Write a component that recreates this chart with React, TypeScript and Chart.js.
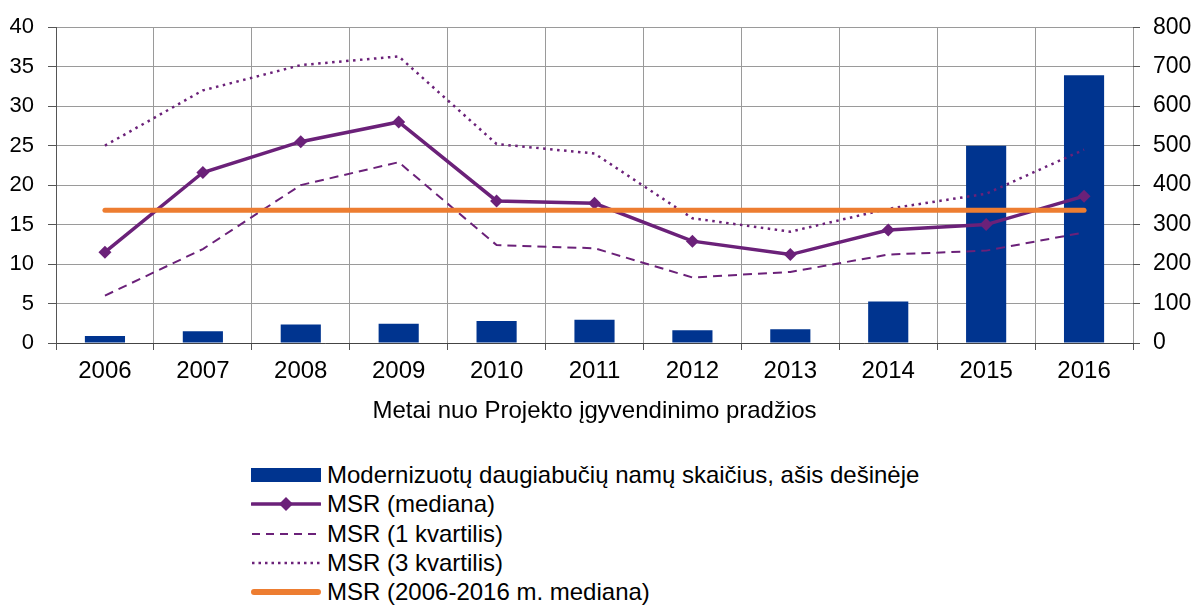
import React, { useEffect, useRef } from "react";
import { Chart, registerables } from "chart.js";

Chart.register(...registerables);

const years = ["2006", "2007", "2008", "2009", "2010", "2011", "2012", "2013", "2014", "2015", "2016"];
const renovatedHouses = [18, 30, 47, 49, 56, 59, 32, 35, 105, 500, 678];
const msrMedian = [11.5, 21.6, 25.5, 28.0, 18.0, 17.7, 12.9, 11.2, 14.3, 15.0, 18.6];
const msrQ1 = [6.0, 11.9, 20.0, 22.9, 12.4, 12.0, 8.3, 9.0, 11.2, 11.7, 14.0];
const msrQ3 = [25.0, 32.0, 35.2, 36.3, 25.2, 24.0, 15.8, 14.1, 17.0, 18.9, 24.5];
const msrOverallMedian = [16.8, 16.8, 16.8, 16.8, 16.8, 16.8, 16.8, 16.8, 16.8, 16.8, 16.8];

const labels = {
  bars: "Modernizuotų daugiabučių namų skaičius, ašis dešinėje",
  median: "MSR (mediana)",
  q1: "MSR (1 kvartilis)",
  q3: "MSR (3 kvartilis)",
  overall: "MSR (2006-2016 m. mediana)",
};
const xTitle = "Metai nuo Projekto įgyvendinimo pradžios";

const BLUE = "#00348F";
const PURPLE = "#6B2179";
const ORANGE = "#ED7D31";
const GRID = "#9a9a9a";
const FONT = "'Liberation Sans', Arial, sans-serif";
const FS = 24;

export default function App() {
  const ref = useRef<HTMLCanvasElement | null>(null);

  useEffect(() => {
    document.body.style.margin = "0";
    const canvas = ref.current;
    if (!canvas) return;
    const chart = new Chart(canvas, {
      type: "bar",
      data: {
        labels: years,
        datasets: [
          {
            type: "line",
            label: labels.overall,
            data: msrOverallMedian,
            borderColor: ORANGE,
            borderWidth: 5,
            borderCapStyle: "round",
            pointRadius: 0,
            yAxisID: "y",
            order: 1,
          } as any,
          {
            type: "line",
            label: labels.median,
            data: msrMedian,
            borderColor: PURPLE,
            backgroundColor: PURPLE,
            borderWidth: 3.5,
            pointStyle: "rectRot",
            pointRadius: 6.5,
            pointBorderWidth: 0,
            yAxisID: "y",
            order: 2,
          } as any,
          {
            type: "line",
            label: labels.q1,
            data: msrQ1,
            borderColor: PURPLE,
            borderWidth: 2,
            borderDash: [9, 6],
            pointRadius: 0,
            yAxisID: "y",
            order: 3,
          } as any,
          {
            type: "line",
            label: labels.q3,
            data: msrQ3,
            borderColor: PURPLE,
            borderWidth: 2.5,
            borderDash: [2.5, 4.5],
            pointRadius: 0,
            yAxisID: "y",
            order: 4,
          } as any,
          {
            type: "bar",
            label: labels.bars,
            data: renovatedHouses,
            backgroundColor: BLUE,
            categoryPercentage: 1,
            barPercentage: 0.41,
            yAxisID: "y1",
            order: 5,
          } as any,
        ],
      },
      options: {
        responsive: false,
        animation: false,
        layout: { padding: { top: 23, left: 0, right: 0, bottom: 0 } },
        plugins: { legend: { display: false }, tooltip: { enabled: false } },
        scales: {
          x: {
            offset: true,
            grid: { offset: true, color: GRID, lineWidth: 1, tickLength: 7, tickColor: "#555" },
            border: { color: "#444", width: 1 },
            ticks: { color: "#000", font: { family: FONT, size: FS }, padding: 7 },
            title: {
              display: true,
              text: xTitle,
              color: "#000",
              font: { family: FONT, size: FS },
              padding: { top: 4, bottom: 0 },
            },
            afterFit: (s: any) => {
              s.height = 83;
            },
          },
          y: {
            position: "left",
            min: 0,
            max: 40,
            grid: { color: GRID, lineWidth: 1, tickLength: 8, tickColor: "#555" },
            border: { color: "#555", width: 1 },
            ticks: { stepSize: 5, color: "#000", font: { family: FONT, size: 22 }, padding: 14 },
            afterFit: (s: any) => {
              s.width = 56;
            },
          },
          y1: {
            position: "right",
            min: 0,
            max: 800,
            grid: { drawOnChartArea: false, tickLength: 7, tickColor: "#555" },
            border: { display: false },
            ticks: { stepSize: 100, color: "#000", font: { family: FONT, size: 23 }, padding: 13 },
            afterFit: (s: any) => {
              s.width = 63;
            },
          },
        },
      },
    });
    return () => chart.destroy();
  }, []);

  const rowH = 29.3;
  const rowStyle: React.CSSProperties = {
    display: "flex",
    alignItems: "center",
    height: rowH,
  };
  const textStyle: React.CSSProperties = {
    fontFamily: FONT,
    fontSize: FS,
    lineHeight: "26px",
    color: "#000",
    marginLeft: 6,
    whiteSpace: "nowrap",
  };
  const sampleW = 70;

  return (
    <div style={{ position: "relative", width: 1196, height: 605, overflow: "hidden", background: "#fff" }}>
      <canvas ref={ref} width={1196} height={426} style={{ position: "absolute", left: 0, top: 0 }} />
      <div style={{ position: "absolute", left: 251, top: 460.5 }}>
        <div style={rowStyle}>
          <div style={{ width: sampleW, height: 14, background: BLUE }} />
          <span style={textStyle}>{labels.bars}</span>
        </div>
        <div style={rowStyle}>
          <svg width={sampleW} height={16}>
            <line x1={1} y1={8} x2={sampleW - 1} y2={8} stroke={PURPLE} strokeWidth={3.5} strokeLinecap="round" />
            <polygon points={`${sampleW / 2},1 ${sampleW / 2 + 7},8 ${sampleW / 2},15 ${sampleW / 2 - 7},8`} fill={PURPLE} />
          </svg>
          <span style={textStyle}>{labels.median}</span>
        </div>
        <div style={rowStyle}>
          <svg width={sampleW} height={16}>
            <line x1={1} y1={8} x2={sampleW - 1} y2={8} stroke={PURPLE} strokeWidth={2} strokeDasharray="8 6" />
          </svg>
          <span style={textStyle}>{labels.q1}</span>
        </div>
        <div style={rowStyle}>
          <svg width={sampleW} height={16}>
            <line x1={1} y1={8} x2={sampleW - 1} y2={8} stroke={PURPLE} strokeWidth={2.5} strokeDasharray="2.5 4" />
          </svg>
          <span style={textStyle}>{labels.q3}</span>
        </div>
        <div style={rowStyle}>
          <svg width={sampleW} height={16}>
            <line x1={3} y1={8} x2={sampleW - 3} y2={8} stroke={ORANGE} strokeWidth={6} strokeLinecap="round" />
          </svg>
          <span style={textStyle}>{labels.overall}</span>
        </div>
      </div>
    </div>
  );
}
